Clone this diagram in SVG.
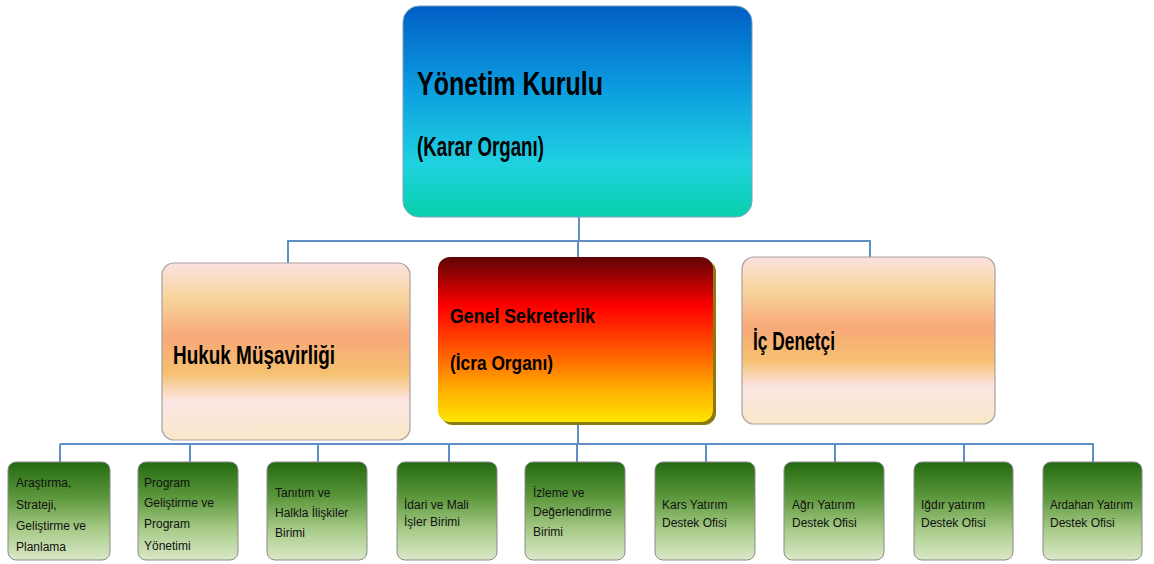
<svg xmlns="http://www.w3.org/2000/svg" width="1154" height="564" viewBox="0 0 1154 564">
<defs>
<linearGradient id="gBlue" x1="0" y1="0" x2="0" y2="1">
<stop offset="0" stop-color="#005ec4"/>
<stop offset="0.4" stop-color="#0c9ee0"/>
<stop offset="0.75" stop-color="#20d2e0"/>
<stop offset="1" stop-color="#06d0aa"/>
</linearGradient>
<linearGradient id="gPeach" x1="0" y1="0" x2="0" y2="1">
<stop offset="0" stop-color="#fbe2e0"/>
<stop offset="0.2" stop-color="#f8d49c"/>
<stop offset="0.42" stop-color="#f7a878"/>
<stop offset="0.62" stop-color="#f6c070"/>
<stop offset="0.78" stop-color="#fbe6e4"/>
<stop offset="1" stop-color="#fae8c8"/>
</linearGradient>
<linearGradient id="gFire" x1="0" y1="0" x2="0" y2="1">
<stop offset="0" stop-color="#5e0404"/>
<stop offset="0.3" stop-color="#ff0000"/>
<stop offset="0.55" stop-color="#ff5200"/>
<stop offset="0.78" stop-color="#ffa600"/>
<stop offset="1" stop-color="#ffe600"/>
</linearGradient>
<linearGradient id="gGreen" x1="0" y1="0" x2="0" y2="1">
<stop offset="0" stop-color="#236a12"/>
<stop offset="0.35" stop-color="#5a963a"/>
<stop offset="0.7" stop-color="#a9cc8a"/>
<stop offset="1" stop-color="#dbe8c8"/>
</linearGradient>
</defs>
<style>
.conn{fill:none;stroke:#5f8fc4;stroke-width:2}
.big{font-family:"Liberation Sans Narrow","Liberation Sans",Arial,sans-serif;font-weight:bold;fill:#000}
.sm{font-family:"Liberation Sans Narrow","Liberation Sans",Arial,sans-serif;font-size:12px;fill:#111}
.leaf{fill:url(#gGreen);stroke:#8a8a8a;stroke-width:1}
.peach{fill:url(#gPeach);stroke:#a8a0a0;stroke-width:1.2}
</style>
<g id="connectors">
<path class="conn" d="M579 217V241M288 263V241H870V257M578 241V257"/>
<path class="conn" d="M578 422V444M60 444H1094M60 444V462M190 444V462M318 444V462M449 444V462M577 444V462M706 444V462M835 444V462M964 444V462M1093 444V462"/>
</g>
<g id="yonetim">
<rect x="403" y="6" width="349" height="211" rx="16" fill="url(#gBlue)" stroke="#7aa0c0" stroke-width="1"/>
<text class="big" x="417" y="95" font-size="34" textLength="186" lengthAdjust="spacingAndGlyphs">Yönetim Kurulu</text>
<text class="big" x="417" y="156" font-size="27" textLength="127" lengthAdjust="spacingAndGlyphs">(Karar Organı)</text>
</g>
<g id="hukuk">
<rect class="peach" x="162" y="263" width="248" height="177" rx="12"/>
<text class="big" x="173" y="364" font-size="26" textLength="162" lengthAdjust="spacingAndGlyphs">Hukuk Müşavirliği</text>
</g>
<g id="genel">
<rect x="441" y="260" width="275" height="165" rx="12" fill="#8a7a10"/>
<rect x="438" y="257" width="275" height="165" rx="12" fill="url(#gFire)"/>
<text class="big" x="450" y="323" font-size="21" textLength="145" lengthAdjust="spacingAndGlyphs">Genel Sekreterlik</text>
<text class="big" x="450" y="370" font-size="21" textLength="103" lengthAdjust="spacingAndGlyphs">(İcra Organı)</text>
</g>
<g id="icdenetci">
<rect class="peach" x="742" y="257" width="253" height="167" rx="12"/>
<text class="big" x="753" y="350" font-size="26" textLength="82" lengthAdjust="spacingAndGlyphs">İç Denetçi</text>
</g>
<g id="b1"><rect class="leaf" x="8" y="462" width="102" height="98" rx="8"/>
<text class="sm" x="16" y="487">Araştırma,</text><text class="sm" x="16" y="509">Strateji,</text><text class="sm" x="16" y="530">Geliştirme ve</text><text class="sm" x="16" y="551">Planlama</text></g>
<g id="b2"><rect class="leaf" x="138" y="462" width="100" height="98" rx="8"/>
<text class="sm" x="144" y="487">Program</text><text class="sm" x="144" y="507">Geliştirme ve</text><text class="sm" x="144" y="528">Program</text><text class="sm" x="144" y="550">Yönetimi</text></g>
<g id="b3"><rect class="leaf" x="267" y="462" width="100" height="98" rx="8"/>
<text class="sm" x="275" y="497">Tanıtım ve</text><text class="sm" x="275" y="517">Halkla İlişkiler</text><text class="sm" x="275" y="537">Birimi</text></g>
<g id="b4"><rect class="leaf" x="397" y="462" width="100" height="98" rx="8"/>
<text class="sm" x="404" y="509">İdari ve Mali</text><text class="sm" x="404" y="526">İşler Birimi</text></g>
<g id="b5"><rect class="leaf" x="525" y="462" width="100" height="98" rx="8"/>
<text class="sm" x="533" y="497">İzleme ve</text><text class="sm" x="533" y="516">Değerlendirme</text><text class="sm" x="533" y="536">Birimi</text></g>
<g id="b6"><rect class="leaf" x="655" y="462" width="100" height="98" rx="8"/>
<text class="sm" x="662" y="509">Kars Yatırım</text><text class="sm" x="662" y="527">Destek Ofisi</text></g>
<g id="b7"><rect class="leaf" x="784" y="462" width="100" height="98" rx="8"/>
<text class="sm" x="792" y="509">Ağrı Yatırım</text><text class="sm" x="792" y="527">Destek Ofisi</text></g>
<g id="b8"><rect class="leaf" x="914" y="462" width="99" height="98" rx="8"/>
<text class="sm" x="921" y="509">Iğdır yatırım</text><text class="sm" x="921" y="527">Destek Ofisi</text></g>
<g id="b9"><rect class="leaf" x="1043" y="462" width="99" height="98" rx="8"/>
<text class="sm" x="1050" y="509" textLength="83" lengthAdjust="spacingAndGlyphs">Ardahan Yatırım</text><text class="sm" x="1050" y="527">Destek Ofisi</text></g>
</svg>
